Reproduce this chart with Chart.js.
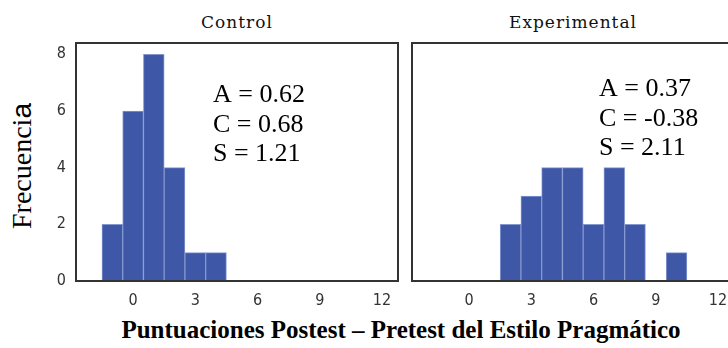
<!DOCTYPE html>
<html>
<head>
<meta charset="utf-8">
<script src="https://cdn.jsdelivr.net/npm/chart.js@4.4.1/dist/chart.umd.min.js"></script>
<style>
  body { margin: 0; width: 728px; height: 348px; overflow: hidden; background: #fff; position: relative; }
  canvas { position: absolute; }
  .title { position: absolute; top: 12px; width: 322px; text-align: center; line-height: 20px;
           font-family: "DejaVu Serif", serif; font-size: 17px; letter-spacing: 1px; color: #111; }
  #ylab { position: absolute; left: -48px; top: 151px; width: 140px; height: 30px; line-height: 30px;
          text-align: center; transform: rotate(-90deg); font-family: "Liberation Serif", "Times New Roman", serif;
          font-size: 28px; color: #000; white-space: nowrap; }
  #ylab span { font-family: "Liberation Sans", Arial, sans-serif; }
  #xlab { position: absolute; left: 0; top: 316px; width: 802px; text-align: center; line-height: 28px;
          font-family: "Liberation Serif", "Times New Roman", serif; font-weight: bold; font-size: 25px; color: #000; }
</style>
</head>
<body>
<div class="title" style="left:76px">Control</div>
<div class="title" style="left:412px">Experimental</div>
<div id="ylab">Frecuenci<span>a</span></div>
<div id="xlab">Puntuaciones Postest – Pretest del Estilo Pragmático</div>
<canvas id="control" width="362" height="275" style="left:40px;top:40px"></canvas>
<canvas id="experimental" width="330" height="275" style="left:408px;top:40px"></canvas>
<script>
// histogram bins (centre of each 1-point bin) and frequencies
const xTicks = [0, 3, 6, 9, 12];
const yTicks = [0, 2, 4, 6, 8];
const controlBins = [-1, 0, 1, 2, 3, 4];
const controlCounts = [2, 6, 8, 4, 1, 1];
const expBins = [2, 3, 4, 5, 6, 7, 8, 10];
const expCounts = [2, 3, 4, 4, 2, 4, 2, 1];
const controlStats = ['A = 0.62', 'C = 0.68', 'S = 1.21'];
const expStats = ['A = 0.37', 'C = -0.38', 'S = 2.11'];

const tickFont = { family: '"DejaVu Sans Condensed", "Liberation Sans Narrow", "DejaVu Sans", sans-serif', size: 16 };

const framePlugin = {
  id: 'frame',
  afterDraw(chart) {
    const a = chart.chartArea, ctx = chart.ctx;
    ctx.save();
    ctx.strokeStyle = '#333';
    ctx.lineWidth = 2;
    ctx.strokeRect(a.left, a.top, a.right - a.left, a.bottom - a.top);
    ctx.restore();
  }
};

const statsPlugin = {
  id: 'stats',
  afterDraw(chart, args, opts) {
    const a = chart.chartArea, ctx = chart.ctx;
    ctx.save();
    ctx.fillStyle = '#000';
    ctx.font = '26px "Liberation Serif", "Times New Roman", serif';
    ctx.textBaseline = 'alphabetic';
    opts.lines.forEach((t, i) => ctx.fillText(t, a.left + opts.dx, a.top + opts.dy + i * 29.5));
    ctx.restore();
  }
};

const noPad = s => { s.paddingTop = 0; s.paddingBottom = 0; s.paddingLeft = 0; s.paddingRight = 0; };

function makeChart(id, bins, counts, stats, showY, pos) {
  const ctx = document.getElementById(id).getContext('2d');
  return new Chart(ctx, {
    type: 'bar',
    data: {
      datasets: [{
        data: bins.map((b, i) => ({ x: b, y: counts[i] })),
        backgroundColor: '#3e57a7',
        borderColor: '#8597cf',
        borderWidth: 1,
        barPercentage: 1,
        categoryPercentage: 1
      }]
    },
    options: {
      responsive: false,
      animation: false,
      layout: { padding: { top: 3, right: 4, left: showY ? 0 : 4 } },
      plugins: { legend: { display: false }, tooltip: { enabled: false }, stats: { lines: stats, dx: pos[0], dy: pos[1] } },
      scales: {
        x: {
          type: 'linear', min: -2.75, max: 12.77, offset: false,
          grid: { display: false, drawTicks: false }, border: { display: false },
          afterBuildTicks: s => { s.ticks = xTicks.map(v => ({ value: v })); },
          afterFit: s => { s.height = 34; noPad(s); },
          ticks: { padding: 10, color: '#333', font: tickFont, maxRotation: 0 }
        },
        y: {
          display: showY, min: 0, max: 8.4,
          grid: { display: false, drawTicks: false }, border: { display: false },
          afterBuildTicks: s => { s.ticks = yTicks.map(v => ({ value: v })); },
          afterFit: s => { if (showY) s.width = 36; noPad(s); },
          ticks: { padding: 10, color: '#333', font: tickFont }
        }
      }
    },
    plugins: [framePlugin, statsPlugin]
  });
}

makeChart('control', controlBins, controlCounts, controlStats, true, [137, 59]);
makeChart('experimental', expBins, expCounts, expStats, false, [187, 53]);
</script>
</body>
</html>
